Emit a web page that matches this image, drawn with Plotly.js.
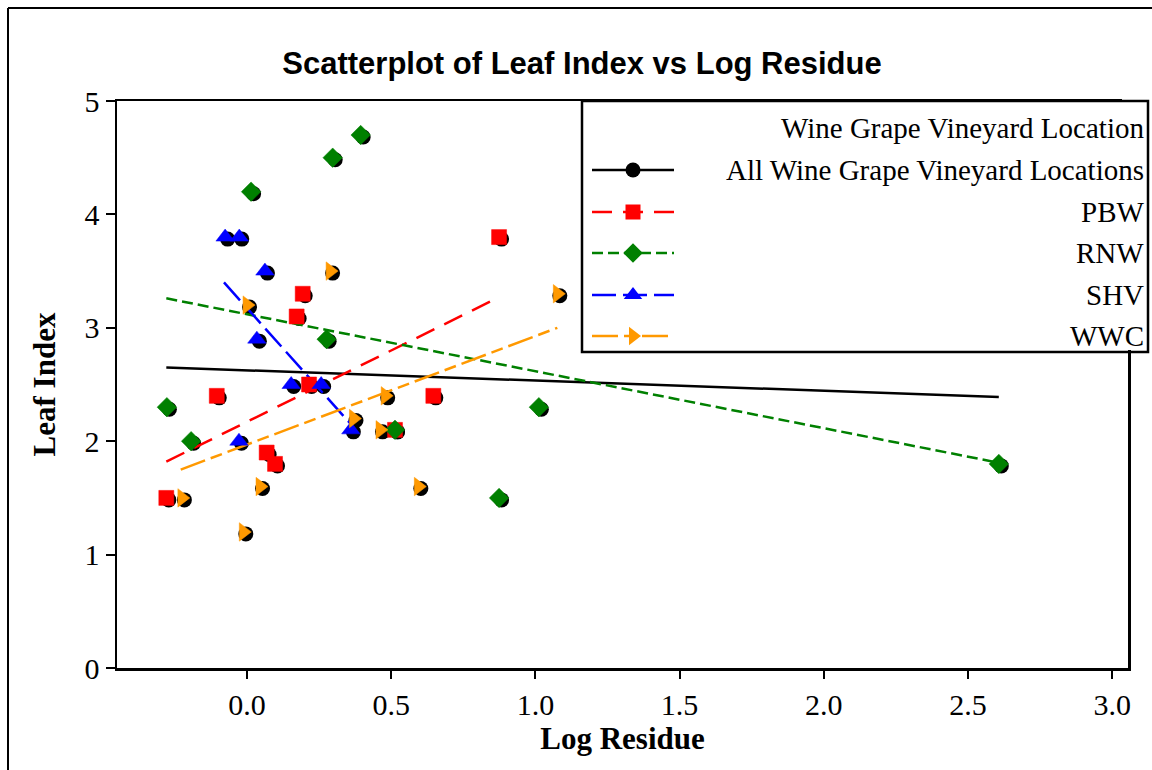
<!DOCTYPE html>
<html>
<head>
<meta charset="utf-8">
<script src="https://cdn.plot.ly/plotly-3.0.1.min.js"></script>
<style>html,body{margin:0;padding:0;background:#fff}#chart{width:1152px;height:770px}</style>
</head>
<body>
<div id="chart"></div>
<script>
// ---- data ----
const groupNames = ["PBW", "RNW", "SHV", "WWC"];
const allName = "All Wine Grape Vineyard Locations";
const legendTitle = "Wine Grape Vineyard Location";

const pbwX = [-0.280, -0.105, 0.068, 0.097, 0.172, 0.193, 0.215, 0.513, 0.646, 0.874];
const pbwY = [1.5, 2.4, 1.9, 1.8, 3.1, 3.3, 2.5, 2.1, 2.4, 3.8];
const rnwX = [-0.278, -0.194, 0.014, 0.276, 0.297, 0.394, 0.513, 0.874, 1.012, 2.607];
const rnwY = [2.3, 2.0, 4.2, 2.9, 4.5, 4.7, 2.1, 1.5, 2.3, 1.8];
const shvX = [-0.076, -0.027, -0.028, 0.034, 0.062, 0.153, 0.257, 0.360];
const shvY = [3.8, 3.8, 2.0, 2.9, 3.5, 2.5, 2.5, 2.1];
const wwcX = [-0.226, -0.013, 0.000, 0.045, 0.288, 0.369, 0.461, 0.479, 0.594, 1.076];
const wwcY = [1.5, 1.2, 3.2, 1.6, 3.5, 2.2, 2.1, 2.4, 1.6, 3.3];

// fitted trend lines (end points)
const allFitX = [-0.28, 2.607];
const allFitY = [2.65, 2.39];
const pbwFitX = [-0.28, 0.874];
const pbwFitY = [1.82, 3.27];
const rnwFitX = [-0.28, 2.607];
const rnwFitY = [3.26, 1.81];
const shvFitX = [-0.08, 0.36];
const shvFitY = [3.40, 2.15];
const wwcFitX = [-0.23, 1.076];
const wwcFitY = [1.75, 3.00];

const xTicks = [0.0, 0.5, 1.0, 1.5, 2.0, 2.5, 3.0];
const yTicks = [0, 1, 2, 3, 4, 5];

// ---- styles ----
const W = 1152, H = 770;
const plotL = 117, plotR = 1128, plotT = 101, plotB = 668;
const xRange = [-0.451, 3.055], yRange = [0, 5];
const pxPerX = (plotR - plotL) / (xRange[1] - xRange[0]);
const pxPerY = (plotB - plotT) / (yRange[1] - yRange[0]);
const shadowDx = 2.5, shadowDy = 2; // black circle offset in px

const styles = {
  PBW: {color: "#FF0000", symbol: "square", size: 15, dash: "20px,11px"},
  RNW: {color: "#008000", symbol: "diamond", size: 15, dash: "11px,5px"},
  SHV: {color: "#0000FF", symbol: "triangle-up", size: 16, dash: "24px,7px"},
  WWC: {color: "#FF9900", symbol: "triangle-right", size: 16, dash: "26px,6px,12px,6px"}
};
const groups = {
  PBW: {x: pbwX, y: pbwY, fx: pbwFitX, fy: pbwFitY},
  RNW: {x: rnwX, y: rnwY, fx: rnwFitX, fy: rnwFitY},
  SHV: {x: shvX, y: shvY, fx: shvFitX, fy: shvFitY},
  WWC: {x: wwcX, y: wwcY, fx: wwcFitX, fy: wwcFitY}
};

const px = v => v / W;
const py = v => 1 - v / H;

const traces = [];
// overall fit line on the base axes
traces.push({type: "scatter", mode: "lines", x: allFitX, y: allFitY, xaxis: "x", yaxis: "y",
  line: {color: "#000", width: 2.5}, showlegend: false, name: allName});
// black circles (All) drawn on a slightly shifted overlay axis as shadow
const allX = [].concat(pbwX, rnwX, shvX, wwcX);
const allY = [].concat(pbwY, rnwY, shvY, wwcY);
traces.push({type: "scatter", mode: "markers", x: allX, y: allY, xaxis: "x2", yaxis: "y2",
  marker: {color: "#000", size: 15, symbol: "circle"}, showlegend: false, name: allName});

// group fit lines
groupNames.forEach(g => {
  const s = styles[g], d = groups[g];
  traces.push({type: "scatter", mode: "lines", x: d.fx, y: d.fy, xaxis: "x3", yaxis: "y3",
    line: {color: s.color, width: 2.5, dash: s.dash}, showlegend: false, name: g});
});
// colored markers
groupNames.forEach(g => {
  const s = styles[g], d = groups[g];
  traces.push({type: "scatter", mode: "markers", x: d.x, y: d.y, xaxis: "x3", yaxis: "y3",
    marker: {color: s.color, size: s.size, symbol: s.symbol, line: {color: s.color, width: 0.5}},
    showlegend: false, name: g});
});

// ---- manual legend (pixel space axis covering whole figure) ----
const legRows = [170, 212, 253, 295, 336];
const legItems = [
  {name: allName, color: "#000", symbol: "circle", size: 15, dash: "solid"},
  ...groupNames.map(g => ({name: g, color: styles[g].color, symbol: styles[g].symbol, size: styles[g].size, dash: styles[g].dash}))
];
const legLineX = [592, 674], legMarkX = 633;
legItems.forEach((it, i) => {
  traces.push({type: "scatter", mode: "lines", x: legLineX, y: [legRows[i], legRows[i]], xaxis: "x4", yaxis: "y4",
    line: {color: it.color, width: 2.5, dash: it.dash}, showlegend: false, hoverinfo: "skip"});
  traces.push({type: "scatter", mode: "markers", x: [legMarkX], y: [legRows[i]], xaxis: "x4", yaxis: "y4",
    marker: {color: it.color, size: it.size, symbol: it.symbol}, showlegend: false, hoverinfo: "skip"});
});

const legFont = {family: "Liberation Serif", size: 29, color: "#000"};
const annotations = [
  {text: legendTitle, x: px(1146), y: py(128), xref: "paper", yref: "paper", xanchor: "right", yanchor: "middle", showarrow: false, font: legFont}
];
legItems.forEach((it, i) => annotations.push({text: it.name, x: px(1146), y: py(legRows[i]), xref: "paper", yref: "paper",
  xanchor: "right", yanchor: "middle", showarrow: false, font: legFont}));

const xDom = [px(plotL), px(plotR)], yDom = [py(plotB), py(plotT)];
const tickFont = {family: "Liberation Serif", size: 30, color: "#000"};
const titleFont = {family: "Liberation Serif", size: 31, color: "#000", weight: "bold"};

const layout = {
  width: W, height: H,
  margin: {l: 0, r: 0, t: 0, b: 0, pad: 0},
  paper_bgcolor: "#fff", plot_bgcolor: "rgba(0,0,0,0)",
  showlegend: false,
  font: {family: "Liberation Serif", color: "#000"},
  title: {text: "Scatterplot of Leaf Index vs Log Residue", x: 582 / W, xanchor: "center", xref: "container",
    y: py(63), yanchor: "middle", yref: "container",
    font: {family: "Liberation Sans", size: 31, weight: "bold", color: "#000"}},
  xaxis: {domain: xDom, range: xRange, tickvals: xTicks, tickformat: ".1f", ticks: "outside", ticklen: 8, tickwidth: 2,
    tickcolor: "#000", showline: true, linewidth: 2.5, linecolor: "#000", mirror: true, showgrid: false, zeroline: false,
    tickfont: tickFont, title: {text: "Log Residue", font: titleFont, standoff: 8}, anchor: "y", fixedrange: true},
  yaxis: {domain: yDom, range: yRange, tickvals: yTicks, ticks: "outside", ticklen: 9, tickwidth: 2,
    tickcolor: "#000", showline: true, linewidth: 2.5, linecolor: "#000", mirror: true, showgrid: false, zeroline: false,
    tickfont: tickFont, title: {text: "Leaf Index", font: titleFont, standoff: 20}, anchor: "x", fixedrange: true},
  xaxis2: {overlaying: "x", domain: xDom, anchor: "y2", range: [xRange[0] - shadowDx / pxPerX, xRange[1] - shadowDx / pxPerX], visible: false, fixedrange: true},
  yaxis2: {overlaying: "y", domain: yDom, anchor: "x2", range: [yRange[0] + shadowDy / pxPerY, yRange[1] + shadowDy / pxPerY], visible: false, fixedrange: true},
  xaxis3: {overlaying: "x", domain: xDom, anchor: "y3", range: xRange, visible: false, fixedrange: true},
  yaxis3: {overlaying: "y", domain: yDom, anchor: "x3", range: yRange, visible: false, fixedrange: true},
  xaxis4: {domain: [0, 1], range: [0, W], visible: false, anchor: "y4", fixedrange: true},
  yaxis4: {domain: [0, 1], range: [H, 0], visible: false, anchor: "x4", fixedrange: true},
  shapes: [
    {type: "line", xref: "paper", yref: "paper", x0: px(8), y0: py(8), x1: 1, y1: py(8), line: {color: "#000", width: 2}},
    {type: "line", xref: "paper", yref: "paper", x0: px(8), y0: py(8), x1: px(8), y1: 0, line: {color: "#000", width: 2}},
    // hide the plot's right border (and its corner) inside the legend box
    {type: "rect", xref: "paper", yref: "paper", x0: px(1122), y0: py(350), x1: px(1134), y1: py(94),
     line: {width: 0}, fillcolor: "#fff", layer: "above"},
    {type: "rect", xref: "paper", yref: "paper", x0: px(582), y0: py(352), x1: px(1148), y1: py(101),
     line: {color: "#000", width: 2.5}, fillcolor: "rgba(0,0,0,0)", layer: "above"}
  ],
  annotations: annotations
};

Plotly.newPlot("chart", traces, layout, {displayModeBar: false, staticPlot: true});
</script>
</body>
</html>
